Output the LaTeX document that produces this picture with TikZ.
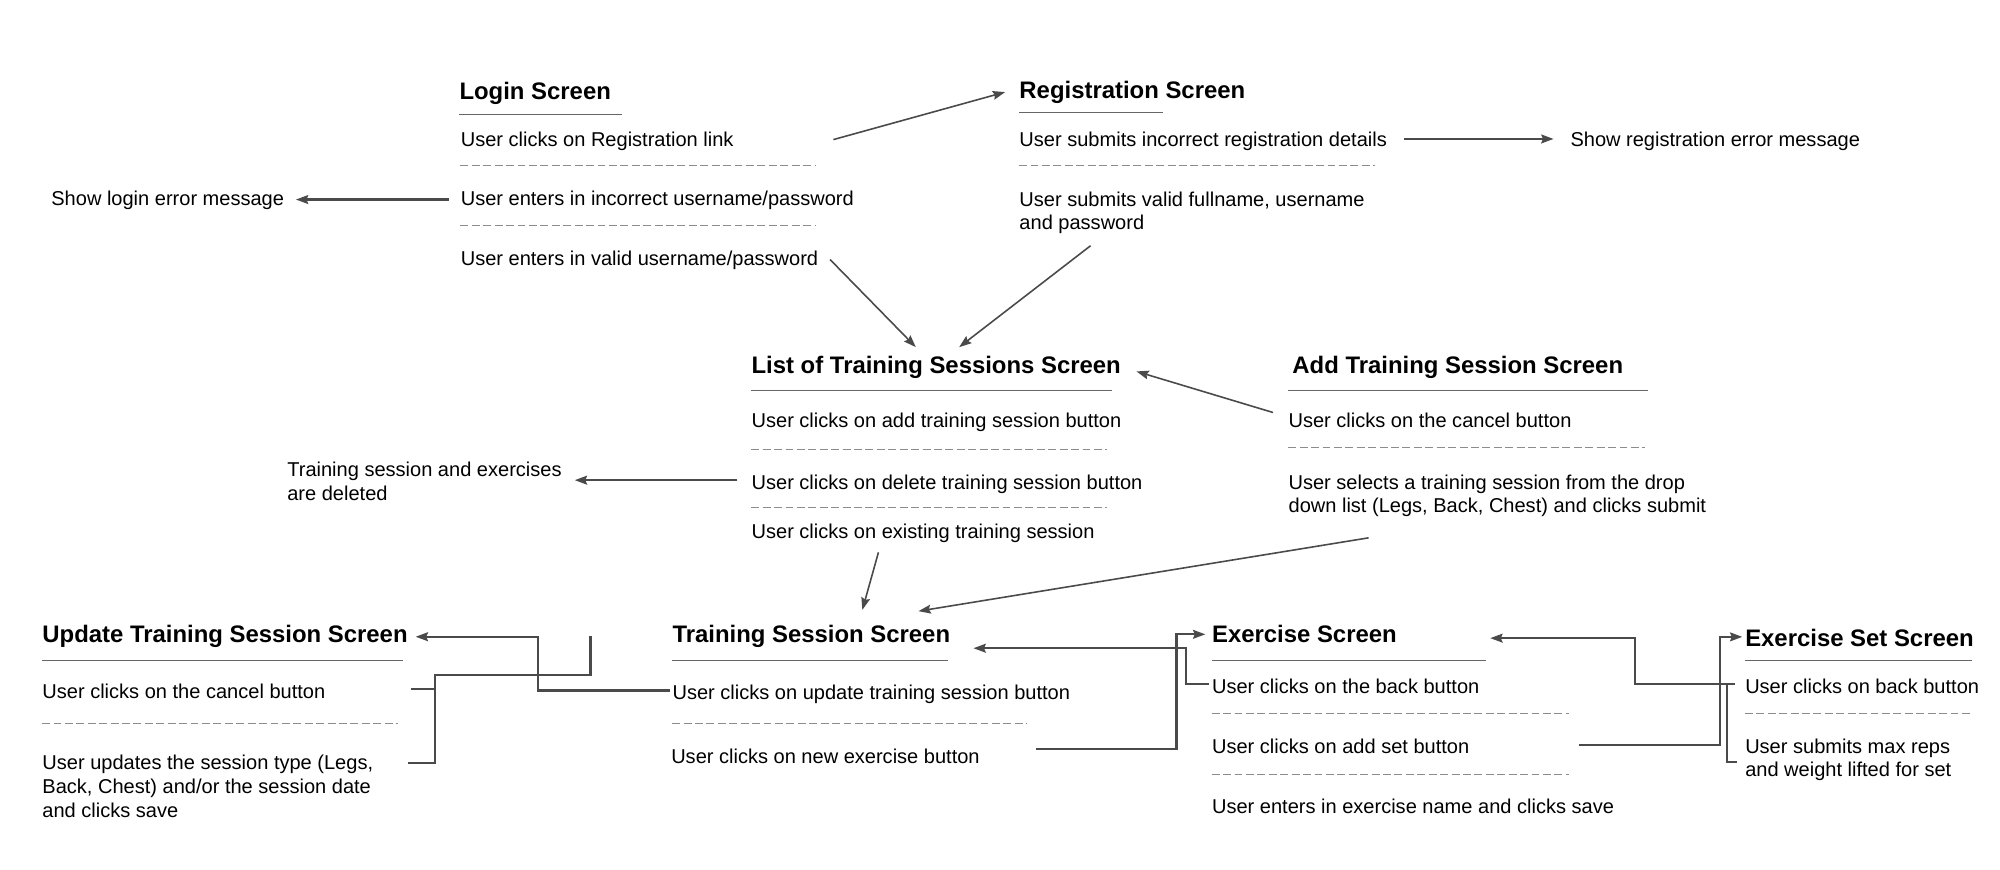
\documentclass[tikz,border=0pt]{standalone}
\usepackage{fontspec}
\setmainfont{Liberation Sans}
\usetikzlibrary{arrows.meta,calc}
\definecolor{linkc}{HTML}{4A4A4A}
\definecolor{sepc}{HTML}{8C8C8C}
\definecolor{ulc}{HTML}{666666}
\tikzset{
  title/.style={anchor=base west,inner sep=0,font=\fontsize{13.6}{16}\selectfont\bfseries},
  row/.style={anchor=base west,inner sep=0,font=\fontsize{11.4}{13.4}\selectfont},
  rows/.style={anchor=north west,inner sep=0,align=left,font=\fontsize{11.4}{13.4}\selectfont},
  link/.style={draw=linkc,line width=1.3pt,->},
  slink/.style={draw=linkc,line width=0.9pt,->},
  line/.style={draw=linkc,line width=1.3pt},
  uline/.style={draw=ulc,line width=0.6pt},
  sepline/.style={draw=sepc,line width=0.5pt,dash pattern=on 4.5pt off 2pt}
}
\begin{document}
\begin{tikzpicture}[x=0.02551cm,y=-0.02551cm,>={Stealth[length=7pt,width=5pt,inset=1pt]}]
\useasboundingbox[fill=white](0,0)rectangle(1568,682);
% login and registration
\node[title](loginT)at(360,78){Login Screen};
\node[row](loginA)at(361,114.5){User clicks on Registration link};
\node[row](loginB)at(361,161.5){User enters in incorrect username/password};
\node[row](loginC)at(361,208.5){User enters in valid username/password};
\node[row](loginErr)at(40,161.5){Show login error message};
\node[title](regT)at(799,77){Registration Screen};
\node[row](regA)at(799,114.5){User submits incorrect registration details};
\node[rows](regB)at(799,150){User submits valid fullname, username\\and password};
\node[row](regErr)at(1231,114.5){Show registration error message};
% list and add
\node[title](listT)at(589,293){List of Training Sessions Screen};
\node[row](listA)at(589,335.5){User clicks on add training session button};
\node[row](listB)at(589,383.5){User clicks on delete training session button};
\node[row](listC)at(589,422.5){User clicks on existing training session};
\node[rows](delMsg)at(225,362){Training session and exercises\\are deleted};
\node[title](addT)at(1013,293){Add Training Session Screen};
\node[row](addA)at(1010,335.5){User clicks on the cancel button};
\node[rows](addB)at(1010,372){User selects a training session from the drop\\down list (Legs, Back, Chest) and clicks submit};
% session, update, exercise, set
\node[title](tsT)at(527,504){Training Session Screen};
\node[row](tsA)at(527,548.5){User clicks on update training session button};
\node[row](tsB)at(526,598.5){User clicks on new exercise button};
\node[title](updT)at(33,504){Update Training Session Screen};
\node[row](updA)at(33,547.5){User clicks on the cancel button};
\node[rows](updB)at(33,592){User updates the session type (Legs,\\Back, Chest) and/or the session date\\and clicks save};
\node[title](exT)at(950,504){Exercise Screen};
\node[row](exA)at(950,543.5){User clicks on the back button};
\node[row](exB)at(950,590.5){User clicks on add set button};
\node[row](exC)at(950,637.5){User enters in exercise name and clicks save};
\node[title](setT)at(1368,507){Exercise Set Screen};
\node[row](setA)at(1368,543.5){User clicks on back button};
\node[rows](setB)at(1368,579){User submits max reps\\and weight lifted for set};
\coordinate(updEnd)at(463,499);
\foreach \x/\y/\w in {360/90/128,799/88/113,589/306/283,1010/306/282,527/518/216,33/518/283,950/518/215,1368/518/178}
  \draw[uline](\x,\y)--++(\w,0);
\foreach \x/\y/\w in {361/130/279,361/177/279,799/130/279,589/352/279,589/398/279,1010/351/280,527/567/278,33/567/279,950/559/280,950/607/280,1368/559/178}
  \draw[sepline](\x,\y)--++(\w,0);
\draw[slink]($(loginA.east)+(78,-1)$)--($(regT.west)+(-11,0)$);
\draw[link]($(loginB.west)+(-9,-1)$)--($(loginErr.east)+(9,-1)$);
\draw[slink]($(loginC.east)+(9,-1)$)--($(listT.north)+(-16,-7)$);
\draw[slink]($(regB.south west)+(56,9)$)--($(listT.north)+(18,-7)$);
\draw[link]($(regA.east)+(13,-1.5)$)--($(regErr.west)+(-13,-1.5)$);
\draw[link]($(listB.west)+(-11,-3)$)--($(delMsg.east|-listB.west)+(10,-3)$);
\draw[slink]($(listC.south)+(-35,7)$)--($(tsT.north)+(40,-12)$);
\draw[slink]($(addA.west)+(-12,-6.5)$)--($(listT.east)+(12,3)$);
\draw[slink]($(addB.south west)+(63,16)$)--($(tsT.north)+(84,-11)$);
\draw[link]($(tsA.west)+(-2,-3)$)--++(-103,0)|-($(updT.east)+(6,0)$);
\draw[link]($(tsB.east)+(44,-5.5)$)--++(110,0)|-($(exT.west)+(-5,0)$);
\draw[line]($(updA.east)+(67,-1.5)$)--++(19,0)coordinate(updJ)|-($(updEnd)+(0,30)$)--(updEnd);
\draw[line]($(updB.north west)+(287,6)$)-|(updJ);
\draw[link]($(exA.west)+(-2,-1.5)$)--++(-18,0)|-($(tsT.east)+(18,9)$);
\draw[link]($(exB.east)+(86,-1)$)--++(110,0)|-($(setT.west)+(-2,-1)$);
\draw[link]($(setA.west)+(-8,-1.5)$)--++(-6,0)coordinate(setJ)--++(-72,0)|-($(exT.east)+(73,3)$);
\draw[line]($(setB.west)+(-6,1.6)$)-|(setJ);
\end{tikzpicture}
\end{document}
